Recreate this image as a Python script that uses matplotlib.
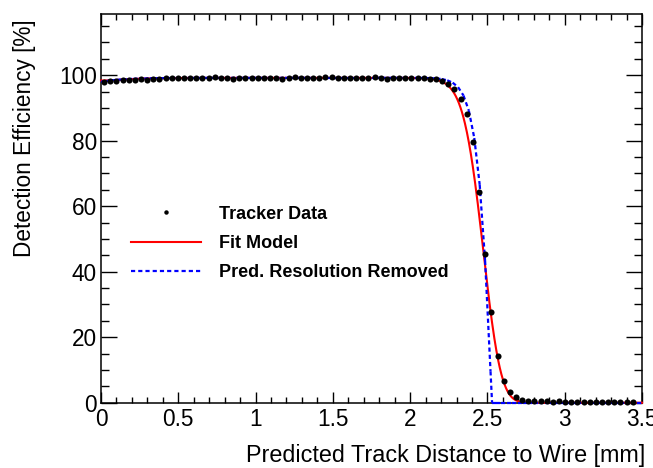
import numpy as np
import matplotlib
matplotlib.use("Agg")
import matplotlib.pyplot as plt
from matplotlib.collections import LineCollection
from matplotlib.lines import Line2D
from matplotlib.ticker import MultipleLocator, FuncFormatter

plt.rcParams["font.family"] = ["Liberation Sans", "DejaVu Sans"]
plt.rcParams["lines.scale_dashes"] = False

# ---- binned tracker measurements (88 bins from 0 to 3.5 mm) ----
bin_edges = np.linspace(0.0, 3.5, 89)
efficiency = [
    98.0, 98.1, 98.2, 98.4, 98.5, 98.6, 98.9, 98.5, 98.9, 99.0,
    99.2, 99.1, 99.2, 99.2, 99.2, 99.2, 99.2, 99.3, 99.4, 99.2,
    99.1, 99.0, 99.2, 99.2, 99.2, 99.2, 99.2, 99.2, 99.1, 99.0,
    99.3, 99.4, 99.2, 99.1, 99.2, 99.3, 99.4, 99.4, 99.3, 99.3,
    99.3, 99.2, 99.3, 99.2, 99.4, 99.2, 99.0, 99.1, 99.2, 99.1,
    99.1, 99.1, 99.1, 99.0, 98.8, 98.35, 97.3, 95.8, 92.7, 88.1,
    79.5, 64.4, 45.3, 27.8, 14.4, 6.7, 3.3, 1.7, 0.9, 0.6,
    0.5, 0.4, 0.4, 0.3, 0.4, 0.3, 0.3, 0.3, 0.3, 0.3,
    0.3, 0.3, 0.3, 0.3, 0.3, 0.3, 0.3,
]
bin_centers = 0.5 * (bin_edges[:-1] + bin_edges[1:])
distance = bin_centers[:len(efficiency)]

# ---- model parameters ----
plateau = 99.2          # plateau efficiency [%]
wire_dip = 0.012        # relative loss close to the wire
wire_dip_scale = 0.15   # [mm]
cell_edge = 2.53        # [mm]
edge_length = 0.073     # [mm]
edge_power = 1.15
resolution = 0.08       # predicted track resolution [mm]

legend_labels = ["Tracker Data", "Fit Model", "Pred. Resolution Removed"]
x_title = "Predicted Track Distance to Wire [mm]"
y_title = "Detection Efficiency [%]"


def intrinsic_efficiency(x):
    r = np.abs(np.asarray(x, dtype=float))
    base = plateau * (1.0 - wire_dip * np.exp(-r / wire_dip_scale))
    depth = np.clip(cell_edge - r, 0.0, None)
    edge = 1.0 - np.exp(-(depth / edge_length) ** edge_power)
    return np.where(r < cell_edge, base * edge, 0.0)


def smeared_efficiency(x):
    step = 0.002
    t = np.arange(-4 * resolution, 4 * resolution + step, step)
    w = np.exp(-0.5 * (t / resolution) ** 2)
    w /= w.sum()
    return intrinsic_efficiency(x[:, None] - t[None, :]) @ w


# ---- figure ----
fig = plt.figure(figsize=(6.53, 4.68), dpi=100)
ax = fig.add_axes([101 / 653, 1 - 402.7 / 468, 541 / 653, 388.7 / 468])

# fit model (smeared by the track resolution)
x_fine = np.linspace(0.0, 3.5, 1401)
ax.plot(x_fine, smeared_efficiency(x_fine), color="#ff0000", lw=1.5,
        clip_on=False, zorder=3)

# intrinsic curve, sampled like a TF1 with 100 steps; dash pattern per segment
x_coarse = np.union1d(np.linspace(0.0, 3.5, 101), [cell_edge])
y_coarse = intrinsic_efficiency(x_coarse)
pts = np.column_stack([x_coarse, y_coarse])
segs = np.stack([pts[:-1], pts[1:]], axis=1)
lc = LineCollection(segs, colors="#0000ff", linewidths=1.6,
                    linestyles=[(0, (3.0, 2.2))], clip_on=False, zorder=4)
ax.add_collection(lc)

# data points
ax.plot(distance, efficiency, "o", color="black", ms=4.4, mew=0,
        clip_on=False, zorder=5)

# axes
ax.set_xlim(0, 3.5)
ax.set_ylim(0, 118.7)
ax.xaxis.set_major_locator(MultipleLocator(0.5))
ax.xaxis.set_minor_locator(MultipleLocator(0.1))
ax.yaxis.set_major_locator(MultipleLocator(20))
ax.yaxis.set_minor_locator(MultipleLocator(5))
ax.xaxis.set_major_formatter(FuncFormatter(lambda v, p: f"{v:g}"))
ax.yaxis.set_major_formatter(FuncFormatter(lambda v, p: f"{v:g}"))

for s in ax.spines.values():
    s.set_linewidth(1.1)
ax.tick_params(which="both", direction="in", top=True, right=True,
               width=1.0, labelsize=16.3, colors="black")
ax.tick_params(axis="x", which="major", length=8.0, pad=4)
ax.tick_params(axis="x", which="minor", length=4.0)
ax.tick_params(axis="y", which="major", length=11.3, pad=3)
ax.tick_params(axis="y", which="minor", length=5.6)

ax.set_xlabel(x_title, fontsize=16.8)
ax.xaxis.label.set(ha="right", va="baseline")
ax.xaxis.set_label_coords(1.006, -0.1526)
ax.set_ylabel(y_title, fontsize=16.3)
ax.yaxis.label.set(ha="right", va="center", rotation_mode="anchor")
ax.yaxis.set_label_coords(-0.142, 0.985)

handles = [
    Line2D([], [], ls="none", marker="o", color="black", ms=3.2, mew=0),
    Line2D([], [], color="#ff0000", lw=1.5),
    Line2D([], [], color="#0000ff", lw=1.6, ls=(0, (3.0, 2.2))),
]
leg = ax.legend(handles, legend_labels, loc="upper left",
                bbox_to_anchor=(0.0555, 0.507), frameon=False,
                borderpad=0, borderaxespad=0, handlelength=3.9,
                handletextpad=0.97, labelspacing=0.68,
                prop={"weight": "bold", "size": 13})

fig.savefig("out.png", dpi=100)
